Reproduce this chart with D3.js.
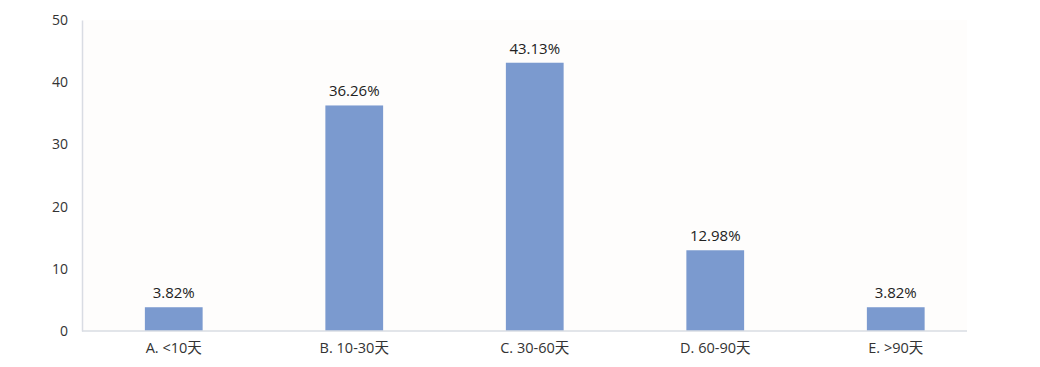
<!DOCTYPE html>
<html><head><meta charset="utf-8">
<script src="https://cdn.jsdelivr.net/npm/d3@7"></script>
<style>body{margin:0;background:#fff;}svg{display:block;font-family:"Open Sans","Noto Sans CJK SC",sans-serif;}</style>
</head><body>
<svg id="c" width="1040" height="367"></svg>
<script>
const categories = ["A. <10天", "B. 10-30天", "C. 30-60天", "D. 60-90天", "E. >90天"];
const values = [3.82, 36.26, 43.13, 12.98, 3.82];
const valueLabels = ["3.82%", "36.26%", "43.13%", "12.98%", "3.82%"];
const yTicks = [0, 10, 20, 30, 40, 50];

const svg = d3.select("#c");
const x0 = 82, xEnd = 967, y0 = 331, yTop = 20;
const x = d3.scaleBand().domain(categories).range([x0 + 1.5, 986]).paddingInner(0.68).paddingOuter(0.34);
const y = d3.scaleLinear().domain([0, 50]).range([y0, yTop]);

svg.append("rect").attr("x", x0).attr("y", yTop).attr("width", xEnd - x0).attr("height", y0 - yTop).attr("fill", "#fefdfc");

svg.selectAll("rect.bar").data(values).join("rect").attr("class", "bar")
  .attr("x", (d, i) => x(categories[i])).attr("width", x.bandwidth())
  .attr("y", d => y(d)).attr("height", d => y(0) - y(d)).attr("fill", "#7b9acf");

svg.selectAll("text.vl").data(values).join("text").attr("class", "vl")
  .attr("x", (d, i) => x(categories[i]) + x.bandwidth() / 2).attr("y", d => y(d) - 9)
  .attr("text-anchor", "middle").attr("font-size", 15).attr("fill", "#222")
  .text((d, i) => valueLabels[i]);

// y axis
const ya = svg.append("g").attr("transform", `translate(${x0},0)`)
  .call(d3.axisLeft(y).tickValues(yTicks).tickSize(0).tickPadding(14));
ya.select(".domain").attr("stroke", "#d9dce3").attr("stroke-width", 1.5);
ya.selectAll("text").attr("font-size", 14).attr("fill", "#333").attr("font-family", "'Open Sans',sans-serif");

// x axis
const xa = svg.append("g").attr("transform", `translate(0,${y0})`)
  .call(d3.axisBottom(x).tickSize(0).tickPadding(12));
xa.select(".domain").remove();
svg.append("line").attr("x1", x0).attr("x2", xEnd).attr("y1", y0).attr("y2", y0).attr("stroke", "#d9dce3").attr("stroke-width", 1.5);
xa.selectAll("text").attr("font-size", 14.5).attr("fill", "#333").attr("font-family", "'Open Sans','Noto Sans CJK SC',sans-serif");
</script>
</body></html>
